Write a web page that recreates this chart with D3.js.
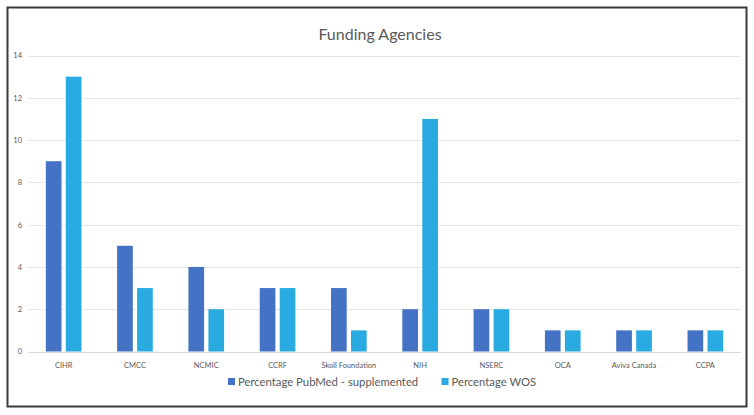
<!DOCTYPE html>
<html>
<head>
<meta charset="utf-8">
<script src="https://cdn.jsdelivr.net/npm/d3@7/dist/d3.min.js"></script>
<style>
  body { margin: 0; background: #fff; }
  text { font-family: Lato, "Open Sans", sans-serif; }
</style>
</head>
<body>
<svg id="chart"></svg>
<script>
const categories = ["CIHR", "CMCC", "NCMIC", "CCRF", "Skoll Foundation", "NIH", "NSERC", "OCA", "Aviva Canada", "CCPA"];
const pubmed = [9, 5, 4, 3, 3, 2, 2, 1, 1, 1];
const wos = [13, 3, 2, 3, 1, 11, 2, 1, 1, 1];
const seriesNames = ["Percentage PubMed - supplemented", "Percentage WOS"];
const yTicks = [0, 2, 4, 6, 8, 10, 12, 14];

const width = 754, height = 415;
const colors = ["#4472c4", "#29abe2"];

const svg = d3.select("#chart").attr("width", width).attr("height", height);

// frame
svg.append("rect")
  .attr("x", 7.5).attr("y", 7.5)
  .attr("width", 739).attr("height", 399)
  .attr("fill", "#fff")
  .attr("stroke", "#3a3a3a")
  .attr("stroke-width", 2);

svg.append("text")
  .attr("x", 380).attr("y", 40)
  .attr("text-anchor", "middle")
  .attr("font-size", 16)
  .attr("fill", "#595959")
  .text("Funding Agencies");

const x = d3.scaleBand().domain(categories).range([28, 741]);
const y = d3.scaleLinear().domain([0, 14]).range([351.5, 55.5]);

// gridlines
svg.append("g")
  .selectAll("line")
  .data(yTicks)
  .enter()
  .append("line")
  .attr("x1", 28).attr("x2", 741)
  .attr("y1", d => Math.round(y(d)) + 0.5)
  .attr("y2", d => Math.round(y(d)) + 0.5)
  .attr("stroke", d => d === 0 ? "#d9d9d9" : "#e6e6e6")
  .attr("stroke-width", 1);

const yAxis = svg.append("g")
  .attr("transform", "translate(22,0)")
  .call(d3.axisLeft(y).tickValues(yTicks).tickSize(0).tickPadding(0));
yAxis.select(".domain").remove();
yAxis.selectAll("text")
  .attr("font-size", 7.5)
  .attr("fill", "#595959")
  .attr("text-anchor", "end");

const xAxis = svg.append("g")
  .attr("transform", "translate(0,351.5)")
  .call(d3.axisBottom(x).tickSize(0).tickPadding(11));
xAxis.select(".domain").remove();
xAxis.selectAll("text")
  .attr("font-size", 7.5)
  .attr("fill", "#595959");

const barW = x.bandwidth() * 0.22;
const gap = 4.3;
const sub = d3.scaleOrdinal().domain([0, 1]).range([-gap / 2 - barW, gap / 2]);

const rows = categories.map((c, i) => ({ c: c, v: [pubmed[i], wos[i]] }));

svg.append("g")
  .selectAll("g")
  .data(rows)
  .enter()
  .append("g")
  .attr("transform", d => `translate(${x(d.c) + x.bandwidth() / 2},0)`)
  .selectAll("rect")
  .data(d => d.v)
  .enter()
  .append("rect")
  .attr("x", (d, i) => sub(i))
  .attr("width", barW)
  .attr("y", d => y(d))
  .attr("height", d => y(0) - y(d))
  .attr("fill", (d, i) => colors[i]);

// legend
const legendX = [228, 441.5];
const legend = svg.append("g")
  .selectAll("g")
  .data(seriesNames)
  .enter()
  .append("g")
  .attr("transform", (d, i) => `translate(${legendX[i]},378)`);

legend.append("rect")
  .attr("width", 7).attr("height", 7)
  .attr("fill", (d, i) => colors[i]);

legend.append("text")
  .attr("x", 10).attr("y", 7.5)
  .attr("font-size", 11.3)
  .attr("fill", "#595959")
  .text(d => d);
</script>
</body>
</html>
